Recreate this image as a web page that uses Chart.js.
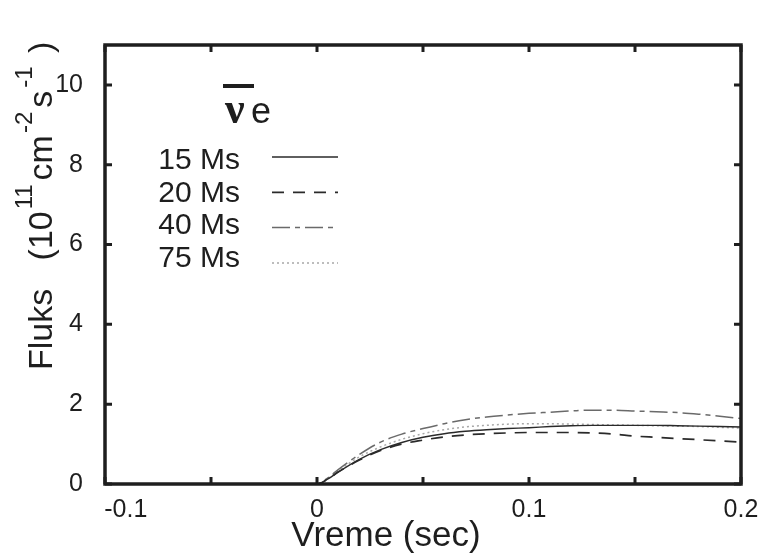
<!DOCTYPE html>
<html>
<head>
<title>Fluks</title>
<script src="https://cdn.jsdelivr.net/npm/chart.js"></script>
<style>
  body { margin: 0; background: #fff; }
</style>
</head>
<body>
<canvas id="myChart" width="763" height="559"></canvas>
<script>
// time (sec) and flux (10^11 cm^-2 s^-1)
const times  = [-0.1, 0, 0.005, 0.01, 0.02, 0.03, 0.04, 0.05, 0.06, 0.07, 0.08, 0.09, 0.10, 0.11, 0.12, 0.13, 0.14, 0.15, 0.16, 0.17, 0.18, 0.19, 0.20];
const flux15 = [0, 0, 0.12, 0.30, 0.62, 0.86, 1.04, 1.17, 1.26, 1.32, 1.36, 1.39, 1.41, 1.44, 1.46, 1.47, 1.47, 1.47, 1.47, 1.46, 1.45, 1.44, 1.43];
const flux20 = [0, 0, 0.12, 0.30, 0.60, 0.84, 1.00, 1.10, 1.18, 1.23, 1.26, 1.28, 1.29, 1.29, 1.29, 1.28, 1.25, 1.20, 1.17, 1.14, 1.11, 1.08, 1.05];
const flux40 = [0, 0, 0.15, 0.36, 0.74, 1.05, 1.25, 1.39, 1.51, 1.61, 1.68, 1.73, 1.77, 1.80, 1.83, 1.85, 1.85, 1.83, 1.81, 1.79, 1.75, 1.70, 1.64];
const flux75 = [0, 0, 0.13, 0.33, 0.68, 0.93, 1.12, 1.26, 1.36, 1.43, 1.47, 1.50, 1.51, 1.51, 1.50, 1.49, 1.48, 1.47, 1.46, 1.45, 1.44, 1.42, 1.40];
const seriesLabels = ['15 Ms', '20 Ms', '40 Ms', '75 Ms'];
// first label sits right of its tick in the original, padded with spaces
const xTickLabels = ['      -0.1', '0', '0.1', '0.2'];

const FONT = '"Liberation Sans", Arial, sans-serif';
const INK = '#1e1e1e';

function toPoints(vals) {
    return vals.map((v, i) => ({ x: times[i], y: v }));
}

// inward ticks on all four sides + heavy frame
const framePlugin = {
    id: 'frame',
    afterDatasetsDraw(chart) {
        const { ctx, chartArea: a, scales: { x, y } } = chart;
        ctx.save();
        ctx.strokeStyle = INK;
        ctx.lineWidth = 3;
        ctx.beginPath();
        x.ticks.forEach(t => {
            const px = x.getPixelForValue(t.value);
            ctx.moveTo(px, a.bottom); ctx.lineTo(px, a.bottom - 7);
            ctx.moveTo(px, a.top); ctx.lineTo(px, a.top + 7);
        });
        y.ticks.forEach(t => {
            const py = y.getPixelForValue(t.value);
            ctx.moveTo(a.left, py); ctx.lineTo(a.left + 7, py);
            ctx.moveTo(a.right, py); ctx.lineTo(a.right - 7, py);
        });
        ctx.stroke();
        ctx.lineWidth = 3.5;
        ctx.strokeRect(a.left, a.top, a.right - a.left, a.bottom - a.top);
        ctx.restore();
    }
};

// legend inside the plot: nu-bar e header, then label + line sample
const legendPlugin = {
    id: 'innerLegend',
    afterDraw(chart) {
        const ctx = chart.ctx;
        ctx.save();
        ctx.fillStyle = INK;
        ctx.fillRect(223, 84, 31, 4);
        ctx.font = 'bold 44px "Liberation Serif", serif';
        ctx.textBaseline = 'alphabetic';
        ctx.fillText('\u03BD', 225, 123);
        ctx.font = '36px ' + FONT;
        ctx.fillText('e', 251, 123);

        ctx.font = '30px ' + FONT;
        ctx.textAlign = 'right';
        chart.data.datasets.forEach((ds, i) => {
            ctx.fillStyle = INK;
            ctx.fillText(ds.label, 240, 169 + i * 32.5);
            const ly = 157 + i * 35.3;
            ctx.strokeStyle = ds.borderColor;
            ctx.lineWidth = ds.borderWidth;
            ctx.setLineDash(ds.borderDash || []);
            ctx.beginPath();
            ctx.moveTo(272, ly);
            ctx.lineTo(338, ly);
            ctx.stroke();
        });
        ctx.restore();
    }
};

// axis titles: y title with real superscripts, rotated
const titlesPlugin = {
    id: 'axisTitles',
    afterDraw(chart) {
        const ctx = chart.ctx;
        ctx.save();
        ctx.fillStyle = INK;
        ctx.textBaseline = 'alphabetic';
        ctx.font = '35px ' + FONT;
        ctx.textAlign = 'center';
        ctx.fillText('Vreme (sec)', 386, 546);

        ctx.textAlign = 'left';
        const parts = [
            ['Fluks   (10', 34, 0, 2],
            ['11', 24, -20, 4],
            ['cm', 34, 0, 2],
            ['-2', 24, -20, 4],
            ['s', 34, 0, 3],
            ['-1', 24, -20, 4],
            [' )', 34, 0, 0]
        ];
        ctx.translate(52, 370);
        ctx.rotate(-Math.PI / 2);
        let pos = 0;
        parts.forEach(([txt, size, dy, gap]) => {
            ctx.font = size + 'px ' + FONT;
            ctx.fillText(txt, pos, dy);
            pos += ctx.measureText(txt).width + gap;
        });
        ctx.restore();
    }
};

const ctx = document.getElementById('myChart').getContext('2d');
new Chart(ctx, {
    type: 'line',
    data: {
        datasets: [
            { label: seriesLabels[0], data: toPoints(flux15), borderColor: '#2a2a2a', borderWidth: 1.4, borderDash: [] },
            { label: seriesLabels[1], data: toPoints(flux20), borderColor: '#2a2a2a', borderWidth: 1.7, borderDash: [12, 9] },
            { label: seriesLabels[2], data: toPoints(flux40), borderColor: '#6a6a6a', borderWidth: 1.5, borderDash: [18, 5, 5, 5] },
            { label: seriesLabels[3], data: toPoints(flux75), borderColor: '#a8a8a8', borderWidth: 1.5, borderDash: [2, 3] }
        ]
    },
    options: {
        responsive: false,
        animation: false,
        layout: { padding: { top: 45, right: 22, left: 0, bottom: 0 } },
        elements: { point: { radius: 0 }, line: { cubicInterpolationMode: 'monotone', fill: false } },
        plugins: { legend: { display: false }, tooltip: { enabled: false } },
        scales: {
            x: {
                type: 'linear',
                min: -0.1,
                max: 0.2,
                afterFit: s => { s.height = 75; s.paddingLeft = 0; s.paddingRight = 0; },
                grid: { display: false, drawTicks: false },
                border: { display: false },
                ticks: {
                    stepSize: 0.05,
                    padding: 11,
                    color: INK,
                    font: { family: FONT, size: 25 },
                    maxRotation: 0,
                    autoSkip: false,
                    callback: v => {
                        const k = Math.round(v * 20);
                        return k % 2 === 0 ? xTickLabels[k / 2 + 1] : '';
                    }
                }
            },
            y: {
                min: 0,
                max: 11,
                afterFit: s => { s.width = 105; s.paddingTop = 0; s.paddingBottom = 0; },
                grid: { display: false, drawTicks: false },
                border: { display: false },
                ticks: {
                    stepSize: 2,
                    includeBounds: false,
                    padding: 22,
                    color: INK,
                    font: { family: FONT, size: 25 }
                }
            }
        }
    },
    plugins: [framePlugin, legendPlugin, titlesPlugin]
});
</script>
</body>
</html>
